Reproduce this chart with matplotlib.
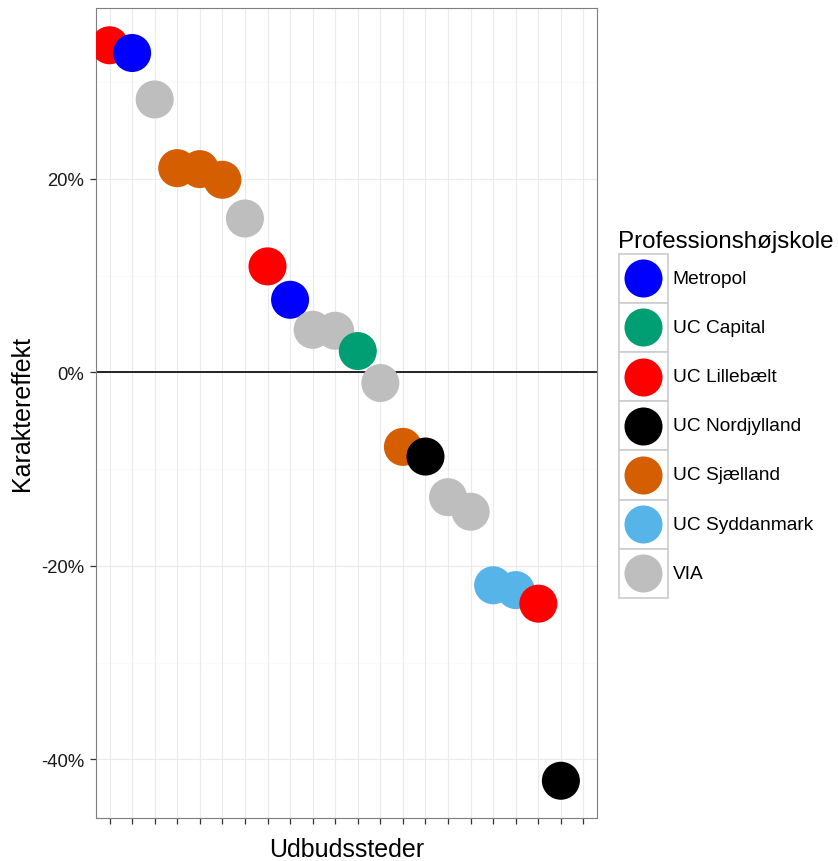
import matplotlib
matplotlib.use("Agg")
import matplotlib.pyplot as plt
from matplotlib.patches import Rectangle
from matplotlib.ticker import FixedLocator, FuncFormatter

plt.rcParams['font.family'] = ['Liberation Sans', 'DejaVu Sans']

# ---- data ----
positions = list(range(1, 22))
values = [33.8, 33.0, 28.2, 21.1, 21.0, 19.9, 15.9, 10.95, 7.5, 4.4, 4.3, 2.2,
          -1.1, -7.7, -8.7, -12.9, -14.4, -22.0, -22.5, -23.9, -42.2]
schools = ["UC Lillebælt", "Metropol", "VIA", "UC Sjælland", "UC Sjælland", "UC Sjælland",
           "VIA", "UC Lillebælt", "Metropol", "VIA", "VIA", "UC Capital", "VIA",
           "UC Sjælland", "UC Nordjylland", "VIA", "VIA", "UC Syddanmark",
           "UC Syddanmark", "UC Lillebælt", "UC Nordjylland"]
n_categories = 22
legend_names = ["Metropol", "UC Capital", "UC Lillebælt", "UC Nordjylland",
                "UC Sjælland", "UC Syddanmark", "VIA"]
legend_colors = ["#0000FF", "#009E73", "#FF0000", "#000000", "#D55E00", "#56B4E9", "#BEBEBE"]
y_ticks = [-40, -20, 0, 20]
y_minor = [-30, -10, 10, 30]

cmap = dict(zip(legend_names, legend_colors))

W, H = 838, 862
fig = plt.figure(figsize=(W / 100, H / 100), dpi=100)
L, R, T, B = 96, 597, 9, 819
ax = fig.add_axes([L / W, 1 - B / H, (R - L) / W, (B - T) / H])

ax.set_xlim(0.4, n_categories + 0.6)
ax.set_ylim(-46.05, 37.65)

# grid
for v in y_minor:
    ax.axhline(v, color="#FAFAFA", lw=0.8, zorder=0)
for v in y_ticks:
    ax.axhline(v, color="#EBEBEB", lw=0.8, zorder=0)
for c in range(1, n_categories + 1):
    ax.axvline(c, color="#EBEBEB", lw=0.8, zorder=0)
ax.axhline(0, color="black", lw=1.2, zorder=1)

ax.scatter(positions, values, s=750, c=[cmap[s] for s in schools], linewidths=0, zorder=3)

ax.xaxis.set_major_locator(FixedLocator(range(1, n_categories + 1)))
ax.xaxis.set_major_formatter(FuncFormatter(lambda v, p: ""))
ax.yaxis.set_major_locator(FixedLocator(y_ticks))
ax.yaxis.set_major_formatter(FuncFormatter(lambda v, p: f"{int(round(v))}%"))
ax.tick_params(axis="both", length=4.5, width=0.9, color="#333333")
ax.tick_params(axis="y", labelsize=13.3, labelcolor="#1a1a1a", pad=4)

for sp in ax.spines.values():
    sp.set_color("#7F7F7F")
    sp.set_linewidth(0.8)

ax.set_xlabel("Udbudssteder", fontsize=18, labelpad=6)
ax.set_ylabel("Karaktereffekt", fontsize=18, labelpad=5)

# ---- manual legend in pixel coords ----
lax = fig.add_axes([0, 0, 1, 1], facecolor="none")
lax.set_xlim(0, W)
lax.set_ylim(H, 0)
lax.axis("off")
kx, ky, kw, kh = 618.5, 254.5, 49.5, 49.2
lax.text(618, 248, "Professionshøjskole", fontsize=17.4, ha="left", va="baseline")
for i, (name, col) in enumerate(zip(legend_names, legend_colors)):
    y0 = ky + i * kh
    lax.add_patch(Rectangle((kx, y0), kw, kh, facecolor="white", edgecolor="#CCCCCC", lw=1.2))
    lax.scatter([kx + kw / 2], [y0 + kh / 2], s=750, color=col, linewidths=0)
    lax.text(672.5, y0 + kh / 2, name, fontsize=13.8, ha="left", va="center")

fig.savefig("out.png", dpi=100, facecolor="white")
